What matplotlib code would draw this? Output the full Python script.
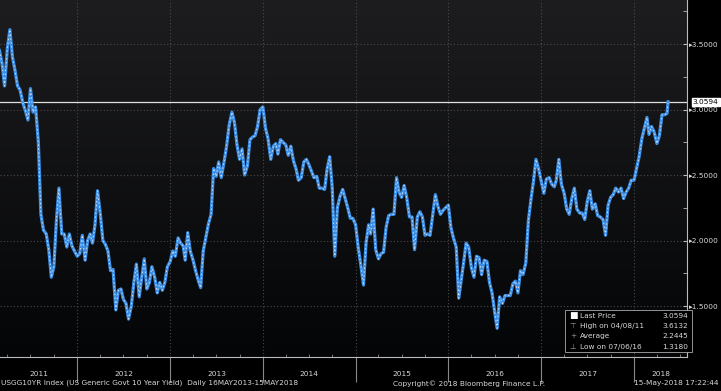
import matplotlib
matplotlib.use("Agg")
import matplotlib.pyplot as plt
import matplotlib.dates as mdates
from matplotlib.colors import LinearSegmentedColormap
import numpy as np
import pandas as pd

# USGG10YR yield at the 1st, 11th and 21st of each month
years = [2011, 2012, 2013, 2014, 2015, 2016, 2017, 2018]
first_month = {2011: 3}
last_month = {2018: 5}

y2011 = [3.45, 3.35, 3.18,  3.47, 3.61, 3.40,  3.30, 3.18, 3.15,
         3.05, 2.99, 2.92,  3.16, 2.98, 3.02,  2.75, 2.20, 2.08,
         2.05, 1.93, 1.72,  1.80, 2.15, 2.40,  2.05, 2.05, 1.95,
         2.05, 1.96, 1.92]
y2012 = [1.88, 1.90, 2.04,  1.85, 2.00, 2.05,  1.98, 2.12, 2.38,
         2.20, 2.00, 1.97,  1.92, 1.77, 1.78,  1.47, 1.62, 1.63,
         1.55, 1.52, 1.40,  1.50, 1.68, 1.82,  1.57, 1.72, 1.86,
         1.63, 1.68, 1.80,  1.72, 1.60, 1.68,  1.62, 1.68, 1.80]
y2013 = [1.84, 1.92, 1.88,  2.02, 1.98, 1.96,  1.85, 2.06, 1.92,
         1.85, 1.77, 1.70,  1.64, 1.92, 2.02,  2.13, 2.20, 2.55,
         2.49, 2.60, 2.48,  2.60, 2.72, 2.88,  2.98, 2.90, 2.73,
         2.62, 2.70, 2.50,  2.57, 2.77, 2.79,  2.80, 2.87, 3.00]
y2014 = [3.02, 2.86, 2.78,  2.62, 2.72, 2.74,  2.66, 2.77, 2.75,
         2.73, 2.65, 2.72,  2.61, 2.55, 2.46,  2.48, 2.60, 2.62,
         2.58, 2.53, 2.48,  2.49, 2.40, 2.40,  2.39, 2.55, 2.64,
         2.40, 1.88, 2.25,  2.34, 2.39, 2.32,  2.25, 2.17, 2.17]
y2015 = [2.12, 1.95, 1.82,  1.66, 1.98, 2.12,  2.05, 2.24, 1.93,
         1.86, 1.90, 1.91,  2.10, 2.19, 2.20,  2.20, 2.48, 2.37,
         2.33, 2.42, 2.33,  2.18, 2.18, 1.93,  2.18, 2.22, 2.18,
         2.04, 2.05, 2.04,  2.20, 2.35, 2.26,  2.20, 2.23, 2.25]
y2016 = [2.27, 2.10, 2.02,  1.95, 1.56, 1.70,  1.83, 1.98, 1.95,
         1.79, 1.72, 1.88,  1.87, 1.74, 1.85,  1.84, 1.68, 1.60,
         1.46, 1.33, 1.57,  1.52, 1.58, 1.58,  1.58, 1.67, 1.69,
         1.60, 1.77, 1.74,  1.83, 2.15, 2.31,  2.45, 2.62, 2.55]
y2017 = [2.45, 2.36, 2.47,  2.48, 2.43, 2.41,  2.46, 2.62, 2.43,
         2.36, 2.24, 2.20,  2.32, 2.40, 2.24,  2.21, 2.21, 2.16,
         2.30, 2.38, 2.24,  2.28, 2.19, 2.18,  2.16, 2.04, 2.27,
         2.33, 2.35, 2.40,  2.37, 2.40, 2.32,  2.37, 2.40, 2.46]
y2018 = [2.46, 2.55, 2.64,  2.78, 2.86, 2.94,  2.81, 2.87, 2.83,
         2.74, 2.80, 2.96,  2.96, 2.97]
last_date = "2018-05-15"
last_price = 3.0594

year_labels = ["2011", "2012", "2013", "2014", "2015", "2016", "2017", "2018"]
ytick_vals = [1.5, 2.0, 2.5, 3.0, 3.5]
legend_rows = [("Last Price", "3.0594"), ("High on 04/08/11", "3.6132"),
               ("Average", "2.2445"), ("Low on 07/06/16", "1.3180")]
footer_left = "USGG10YR Index (US Generic Govt 10 Year Yield)  Daily 16MAY2013-15MAY2018"
footer_mid = "Copyright\u00a9 2018 Bloomberg Finance L.P."
footer_right = "15-May-2018 17:22:44"

# build the date axis for the dekad readings
values = y2011 + y2012 + y2013 + y2014 + y2015 + y2016 + y2017 + y2018 + [last_price]
dates = []
for yr in years:
	for m in range(first_month.get(yr, 1), last_month.get(yr, 12) + 1):
		for d in (1, 11, 21):
			dates.append(pd.Timestamp(yr, m, d))
dates = dates[:len(values) - 1] + [pd.Timestamp(last_date)]

TXT = "#d8d8d8"
GRID = "#4a4a4a"
BLUE = "#3c8fe6"
FS = 5.3

fig = plt.figure(figsize=(7.21, 3.91), dpi=100)
fig.patch.set_facecolor("black")
ax = fig.add_axes([0.0, 0.087, 0.953, 0.913])

x0 = pd.Timestamp("2011-03-03")
x1 = pd.Timestamp("2018-07-29")
ylo, yhi = 1.111, 3.836

# dark gradient background, lighter at the top
grad = np.linspace(0, 1, 256).reshape(-1, 1)
bgmap = LinearSegmentedColormap.from_list("bg", ["#1d1d20", "#040507"])
ax.imshow(grad, aspect="auto", cmap=bgmap, origin="upper",
	extent=[mdates.date2num(x0), mdates.date2num(x1), ylo, yhi], zorder=0)
ax.set_xlim(x0, x1)
ax.set_ylim(ylo, yhi)

# grid
year_starts = [pd.Timestamp(int(y), 1, 1) for y in year_labels[1:]]
for ys in year_starts:
	ax.axvline(ys, color=GRID, lw=0.8, ls=(0, (1, 2)), zorder=1)
for v in ytick_vals:
	ax.axhline(v, color=GRID, lw=0.8, ls=(0, (1, 2)), zorder=1)

# price line
ax.plot(dates, values, color=BLUE, lw=2.3, zorder=3)
ax.plot(dates, values, color="#f0f0f0", lw=0.7, alpha=0.85, zorder=4, ls=(0, (1.5, 2.5)))

# last price line and box
ax.axhline(last_price, color="#e0e0e0", lw=0.9, zorder=2)
ax.annotate("3.0594", xy=(1.0, last_price), xycoords=("axes fraction", "data"),
	xytext=(4, 0), textcoords="offset points", va="center", ha="left",
	fontsize=FS, color="black",
	bbox=dict(boxstyle="square,pad=0.15", fc="white", ec="white"), zorder=6,
	annotation_clip=False)

# axes spines and ticks
for s in ["top", "left"]:
	ax.spines[s].set_visible(False)
for s in ["right", "bottom"]:
	ax.spines[s].set_color("#bbbbbb")
	ax.spines[s].set_linewidth(0.8)
ax.yaxis.tick_right()
ax.set_yticks(ytick_vals)
ax.set_yticklabels(["\u25b8" + f"{v:.4f}" for v in ytick_vals])
ax.set_yticks([1.25, 1.75, 2.25, 2.75, 3.25, 3.75], minor=True)
ax.tick_params(axis="y", which="both", direction="in", length=3, color="#bbbbbb",
	labelsize=FS, labelcolor=TXT, pad=1)
ax.set_xticks(year_starts)
ax.set_xticklabels([])
ax.xaxis.set_minor_locator(mdates.MonthLocator(bymonth=[4, 7, 10]))
ax.tick_params(axis="x", which="major", direction="out", length=18, color="#888888")
ax.tick_params(axis="x", which="minor", direction="in", length=2, color="#888888")

# year labels centred in each year span
for lab in year_labels:
	a = max(pd.Timestamp(int(lab), 1, 1), x0)
	b = min(pd.Timestamp(int(lab) + 1, 1, 1), x1)
	mid = a + (b - a) / 2
	ax.text(mid, -0.048, lab, transform=ax.get_xaxis_transform(), ha="center", va="center",
		fontsize=FS, color=TXT, clip_on=False)

# legend box
lx, ly = 0.822, 0.014
lw_, lh = 0.185, 0.118
ax.add_patch(plt.Rectangle((lx, ly), lw_, lh, transform=ax.transAxes, fc="black",
	ec="#aaaaaa", lw=0.6, zorder=7, clip_on=False))
icons = ["\u25a0", "\u22a4", "+", "\u22a5"]
for i, (name, val) in enumerate(legend_rows):
	yy = ly + lh - 0.016 - i * 0.029
	ax.text(lx + 0.012, yy, icons[i], transform=ax.transAxes, fontsize=FS if i else 6.5,
		color="white" if i == 0 else "#999999", va="center", ha="center", zorder=8)
	ax.text(lx + 0.022, yy, name, transform=ax.transAxes, fontsize=FS, color=TXT,
		va="center", ha="left", zorder=8)
	ax.text(lx + lw_ - 0.006, yy, val, transform=ax.transAxes, fontsize=FS, color=TXT,
		va="center", ha="right", zorder=8)

# footer
fig.text(0.002, 0.02, footer_left, fontsize=FS, color=TXT, ha="left", va="center")
fig.text(0.545, 0.02, footer_mid, fontsize=FS, color=TXT, ha="left", va="center")
fig.text(0.997, 0.02, footer_right, fontsize=FS, color=TXT, ha="right", va="center")

plt.savefig("out.png", dpi=100, facecolor="black")
